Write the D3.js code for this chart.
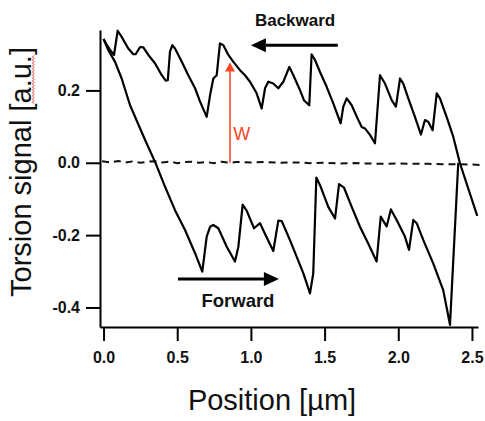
<!DOCTYPE html>
<html>
<head>
<meta charset="utf-8">
<script src="https://cdn.jsdelivr.net/npm/d3@7"></script>
<style>
  body { margin: 0; background: #fff; }
  svg { display: block; font-family: "Liberation Sans", Arial, sans-serif; }
</style>
</head>
<body>
<div id="chart"></div>
<script>

const FRAME_WIDTH = 485;
const FRAME_HEIGHT = 421;
const MARGINS = {left: 100, right: 7, top: 30, bottom: 94};

const VIS_WIDTH = FRAME_WIDTH - MARGINS.left - MARGINS.right;
const VIS_HEIGHT = FRAME_HEIGHT - MARGINS.top - MARGINS.bottom;

const X_DOMAIN = [-0.024, 2.541];
const Y_DOMAIN = [-0.454, 0.367];
const X_TICKS = [0.0, 0.5, 1.0, 1.5, 2.0, 2.5];
const Y_TICKS = [-0.4, -0.2, 0.0, 0.2];

// backward scan (upper trace), position in um, torsion in a.u.
const BACK_X = [0.000, 0.022, 0.044, 0.071, 0.096, 0.123, 0.168, 0.202, 0.218, 0.248,
                0.270, 0.304, 0.349, 0.395, 0.422, 0.436, 0.451, 0.467, 0.485, 0.531,
                0.575, 0.621, 0.655, 0.700, 0.723, 0.745, 0.768, 0.790, 0.813, 0.847,
                0.881, 0.926, 0.960, 0.994, 1.039, 1.073, 1.096, 1.118, 1.152, 1.186,
                1.220, 1.261, 1.288, 1.333, 1.360, 1.396, 1.412, 1.435, 1.469, 1.514,
                1.559, 1.609, 1.627, 1.650, 1.684, 1.729, 1.752, 1.774, 1.808, 1.842,
                1.876, 1.910, 1.955, 1.984, 2.012, 2.034, 2.068, 2.113, 2.154, 2.181,
                2.204, 2.233, 2.261, 2.283, 2.328, 2.373, 2.419, 2.536];
const BACK_Y = [0.342, 0.326, 0.312, 0.298, 0.365, 0.348, 0.316, 0.300, 0.300, 0.320,
                0.319, 0.298, 0.275, 0.242, 0.227, 0.228, 0.307, 0.325, 0.316, 0.279,
                0.242, 0.206, 0.169, 0.127, 0.187, 0.233, 0.242, 0.330, 0.325, 0.298,
                0.279, 0.256, 0.242, 0.224, 0.192, 0.150, 0.206, 0.224, 0.219, 0.206,
                0.224, 0.265, 0.242, 0.201, 0.173, 0.159, 0.300, 0.284, 0.251, 0.210,
                0.164, 0.109, 0.155, 0.178, 0.159, 0.118, 0.099, 0.095, 0.077, 0.054,
                0.242, 0.219, 0.173, 0.155, 0.233, 0.219, 0.178, 0.127, 0.078, 0.118,
                0.113, 0.090, 0.192, 0.178, 0.127, 0.072, -0.002, -0.147];

// forward scan (lower trace)
const FWD_X = [0.000, 0.033, 0.078, 0.123, 0.180, 0.282, 0.349, 0.417, 0.485, 0.553,
               0.621, 0.670, 0.700, 0.723, 0.745, 0.779, 0.836, 0.892, 0.915, 0.944,
               0.972, 1.021, 1.062, 1.096, 1.152, 1.186, 1.209, 1.265, 1.311, 1.356,
               1.401, 1.423, 1.444, 1.469, 1.525, 1.571, 1.598, 1.632, 1.684, 1.740,
               1.796, 1.853, 1.881, 1.921, 1.950, 1.989, 2.045, 2.073, 2.102, 2.125,
               2.170, 2.237, 2.305, 2.351, 2.407];
const FWD_Y = [0.342, 0.311, 0.279, 0.233, 0.159, 0.063, 0.003, -0.066, -0.131, -0.186,
               -0.250, -0.301, -0.204, -0.177, -0.172, -0.181, -0.232, -0.273, -0.232, -0.116,
               -0.133, -0.181, -0.167, -0.197, -0.244, -0.160, -0.161, -0.214, -0.260, -0.306,
               -0.361, -0.306, -0.041, -0.062, -0.122, -0.154, -0.059, -0.069, -0.122, -0.177,
               -0.223, -0.273, -0.149, -0.176, -0.129, -0.158, -0.204, -0.241, -0.158, -0.167,
               -0.214, -0.278, -0.352, -0.448, 0.000];

// zero line (dashed)
const ZERO_X = [-0.01, 0.05, 0.10, 0.15, 0.20, 0.25, 0.30, 0.35, 0.40, 0.45, 0.50, 0.55,
                0.60, 0.65, 0.70, 0.75, 0.80, 0.85, 0.90, 1.00, 1.10, 1.20, 1.30, 1.40,
                1.50, 1.60, 1.70, 1.80, 1.90, 2.00, 2.10, 2.20, 2.30, 2.40, 2.50, 2.56];
const ZERO_Y = [0.004, 0.001, 0.005, 0.001, 0.004, 0.000, 0.003, 0.004, 0.001, 0.003, -0.001, 0.002,
                0.003, 0.000, 0.002, -0.001, 0.003, 0.000, 0.002, 0.001, 0.002, 0.000, 0.001, -0.001,
                0.000, -0.002, -0.001, -0.002, -0.003, -0.002, -0.003, -0.003, -0.004, -0.004, -0.005, -0.006];

// annotations (data coords)
const BACK_ARROW = {x1: 1.59, x2: 1.00, y: 0.325, label: "Backward", lx: 1.30, ly: 0.378, size: 17};
const FWD_ARROW = {x1: 0.505, x2: 1.19, y: -0.321, label: "Forward", lx: 0.912, ly: -0.398, size: 18.5};
const W_ARROW = {x: 0.858, y1: 0.0, y2: 0.277, label: "W", lx: 0.88, ly: 0.063};

const RED = "#ff4422";

const FRAME = d3.select("#chart")
                .append("svg")
                  .attr("width", FRAME_WIDTH)
                  .attr("height", FRAME_HEIGHT);

const X_SCALE = d3.scaleLinear().domain(X_DOMAIN).range([MARGINS.left, MARGINS.left + VIS_WIDTH]);
const Y_SCALE = d3.scaleLinear().domain(Y_DOMAIN).range([MARGINS.top + VIS_HEIGHT, MARGINS.top]);

const line = d3.line()
               .x((d) => X_SCALE(d[0]))
               .y((d) => Y_SCALE(d[1]));

// axes
const xAxis = FRAME.append("g")
                   .attr("transform", "translate(0," + (MARGINS.top + VIS_HEIGHT) + ")")
                   .call(d3.axisBottom(X_SCALE).tickValues(X_TICKS)
                           .tickFormat((d) => d.toFixed(1))
                           .tickSize(14).tickSizeOuter(0).tickPadding(11));
const yAxis = FRAME.append("g")
                   .attr("transform", "translate(" + MARGINS.left + ",0)")
                   .call(d3.axisLeft(Y_SCALE).tickValues(Y_TICKS)
                           .tickFormat((d) => d.toFixed(1))
                           .tickSize(14).tickSizeOuter(0).tickPadding(6));

[xAxis, yAxis].forEach((g) => {
  g.select(".domain").attr("stroke", "#000").attr("stroke-width", 2);
  g.selectAll(".tick line").attr("stroke", "#000").attr("stroke-width", 2);
  g.selectAll(".tick text")
   .attr("fill", "#111")
   .style("font-family", "'Liberation Sans', Arial, sans-serif")
   .style("font-size", "16px")
   .style("font-weight", "bold");
});

// traces
FRAME.append("path")
     .datum(ZERO_X.map((x, i) => [x, ZERO_Y[i]]))
     .attr("d", line)
     .attr("fill", "none")
     .attr("stroke", "#111")
     .attr("stroke-width", 2)
     .attr("stroke-dasharray", "7,5");

FRAME.append("path")
     .datum(BACK_X.map((x, i) => [x, BACK_Y[i]]))
     .attr("d", line)
     .attr("fill", "none")
     .attr("stroke", "#000")
     .attr("stroke-width", 2.2)
     .attr("stroke-linejoin", "round");

FRAME.append("path")
     .datum(FWD_X.map((x, i) => [x, FWD_Y[i]]))
     .attr("d", line)
     .attr("fill", "none")
     .attr("stroke", "#000")
     .attr("stroke-width", 2.2)
     .attr("stroke-linejoin", "round");

// arrows
function hArrow(a, color) {
  const x1 = X_SCALE(a.x1), x2 = X_SCALE(a.x2), y = Y_SCALE(a.y);
  const dir = Math.sign(x2 - x1), head = 15, half = 7;
  FRAME.append("line")
       .attr("x1", x1).attr("x2", x2 - dir * head)
       .attr("y1", y).attr("y2", y)
       .attr("stroke", color).attr("stroke-width", 3);
  FRAME.append("path")
       .attr("d", "M" + x2 + "," + y + "L" + (x2 - dir * head) + "," + (y - half) +
                  "L" + (x2 - dir * head) + "," + (y + half) + "Z")
       .attr("fill", color);
  FRAME.append("text")
       .attr("x", X_SCALE(a.lx)).attr("y", Y_SCALE(a.ly))
       .attr("text-anchor", "middle")
       .style("font-size", a.size + "px").style("font-weight", "bold")
       .attr("fill", "#111")
       .text(a.label);
}
hArrow(BACK_ARROW, "#000");
hArrow(FWD_ARROW, "#000");

// W arrow
const wx = X_SCALE(W_ARROW.x), wy1 = Y_SCALE(W_ARROW.y1), wy2 = Y_SCALE(W_ARROW.y2);
FRAME.append("line")
     .attr("x1", wx).attr("x2", wx).attr("y1", wy1).attr("y2", wy2 + 8)
     .attr("stroke", RED).attr("stroke-width", 1.5);
FRAME.append("path")
     .attr("d", "M" + wx + "," + wy2 + "L" + (wx - 5) + "," + (wy2 + 9) + "L" + (wx + 5) + "," + (wy2 + 9) + "Z")
     .attr("fill", RED);
FRAME.append("text")
     .attr("x", X_SCALE(W_ARROW.lx)).attr("y", Y_SCALE(W_ARROW.ly))
     .style("font-size", "18px")
     .attr("fill", RED)
     .text(W_ARROW.label);

// axis titles
FRAME.append("text")
     .attr("x", 272).attr("y", 410)
     .attr("text-anchor", "middle")
     .style("font-size", "29px")
     .attr("fill", "#111")
     .text("Position [µm]");

const yTitle = FRAME.append("g").attr("transform", "translate(31,172) rotate(-90)");
const yText = yTitle.append("text")
                    .attr("text-anchor", "middle")
                    .style("font-size", "29px")
                    .attr("fill", "#111")
                    .text("Torsion signal [a.u.]");

// spell-check squiggle under "a.u."
const node = yText.node();
const total = node.getComputedTextLength();
const s0 = -total / 2 + node.getSubStringLength(0, 16);
const sLen = node.getSubStringLength(16, 4);
let sq = "M" + s0 + ",3";
for (let t = s0 + 1.5, k = 0; t <= s0 + sLen; t += 1.5, k++) {
  sq += "L" + t + "," + (k % 2 === 0 ? 1.5 : 3);
}
yTitle.append("path")
      .attr("d", sq)
      .attr("fill", "none")
      .attr("stroke", "#e83030")
      .attr("stroke-width", 1);

</script>
</body>
</html>
